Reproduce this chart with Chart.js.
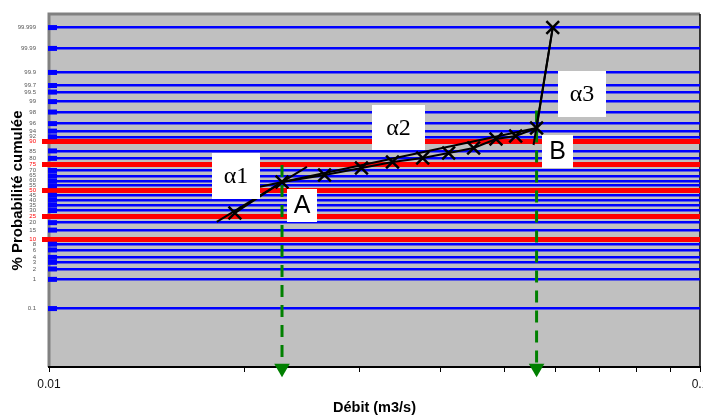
<!DOCTYPE html>
<html>
<head>
<meta charset="utf-8">
<script src="https://cdn.jsdelivr.net/npm/chart.js@4/dist/chart.umd.min.js"></script>
<style>
html, body { margin: 0; padding: 0; background: #fff; overflow: hidden; }
#wrap { width: 703px; height: 417px; }
</style>
</head>
<body>
<div id="wrap"><canvas id="chart"></canvas></div>
<script>
// measured points (débit in m3/s, cumulated probability in %)
const debit = [0.0193, 0.0228, 0.0265, 0.0302, 0.0337, 0.0375, 0.0411, 0.0449, 0.0486, 0.0521, 0.0561, 0.0594];
const probaCumulee = [27.8, 58.8, 65.8, 72.2, 77.2, 80.3, 83.7, 86.7, 91.1, 92.3, 94.9, 99.999];

// fitted segments
const alpha1Debit = [0.0181, 0.0249];
const alpha1Proba = [20.5, 73.1];
const alpha2Debit = [0.0210, 0.0561];
const alpha2Proba = [53.6, 94.9];
const alpha3Debit = [0.0555, 0.0594];
const alpha3Proba = [88.3, 99.999];

// points A and B (green arrows)
const debitA = 0.0228, probaA = 74.8;
const debitB = 0.0561, probaB = 98.2;

// axes
const probTicks = [0.1, 1, 2, 3, 4, 6, 8, 10, 15, 20, 25, 30, 35, 40, 45, 50, 55, 60, 65, 70, 75, 80, 85, 90, 92, 94, 96, 98, 99, 99.5, 99.7, 99.9, 99.99, 99.999];
const probRed = [10, 25, 50, 75, 90];
const debitTicks = [0.01, 0.02, 0.03, 0.04, 0.05, 0.06, 0.07, 0.08, 0.09, 0.1];
const debitLabels = ['0.01', '', '', '', '', '', '', '', '', '0.1'];

const BLUE = '#0000FF', RED = '#FF0000', GREEN = '#008000';
const Z_MAX = 4.62;       // normal probability paper limits
const Z_ARROW = -4.65;    // arrow heads sit just under the axis

// inverse of the normal cumulative distribution (Acklam)
function probit(pct) {
    const p = pct / 100;
    const a = [-3.969683028665376e+01, 2.209460984245205e+02, -2.759285104469687e+02, 1.383577518672690e+02, -3.066479806614716e+01, 2.506628277459239e+00];
    const b = [-5.447609879822406e+01, 1.615858368580409e+02, -1.556989798598866e+02, 6.680131188771972e+01, -1.328068155288572e+01];
    const c = [-7.784894002430293e-03, -3.223964580411365e-01, -2.400758277161838e+00, -2.549732539343734e+00, 4.374664141464968e+00, 2.938163982698783e+00];
    const d = [7.784695709041462e-03, 3.224671290700398e-01, 2.445134137142996e+00, 3.754408661907416e+00];
    const pl = 0.02425;
    if (p < pl) {
        const q = Math.sqrt(-2 * Math.log(p));
        return (((((c[0] * q + c[1]) * q + c[2]) * q + c[3]) * q + c[4]) * q + c[5]) / ((((d[0] * q + d[1]) * q + d[2]) * q + d[3]) * q + 1);
    }
    if (p > 1 - pl) {
        const q = Math.sqrt(-2 * Math.log(1 - p));
        return -(((((c[0] * q + c[1]) * q + c[2]) * q + c[3]) * q + c[4]) * q + c[5]) / ((((d[0] * q + d[1]) * q + d[2]) * q + d[3]) * q + 1);
    }
    const q = p - 0.5, r = q * q;
    return (((((a[0] * r + a[1]) * r + a[2]) * r + a[3]) * r + a[4]) * r + a[5]) * q / (((((b[0] * r + b[1]) * r + b[2]) * r + b[3]) * r + b[4]) * r + 1);
}

const toPts = (xs, ps) => xs.map((x, i) => ({x: x, y: probit(ps[i])}));
const isRed = i => probRed.includes(probTicks[i]);

// text boxes (pixel layout)
const labels = [
    {text: 'α1', x: 212, y: 153, w: 48, h: 46, font: '24px "Liberation Serif", "Times New Roman", serif'},
    {text: 'α2', x: 372, y: 105, w: 53, h: 45, font: '24px "Liberation Serif", "Times New Roman", serif'},
    {text: 'α3', x: 558, y: 71, w: 48, h: 46, font: '24px "Liberation Serif", "Times New Roman", serif'},
    {text: 'A', x: 287, y: 189, w: 30, h: 33, font: '25px "Liberation Sans", Arial, sans-serif'},
    {text: 'B', x: 542, y: 135, w: 31, h: 33, font: '25px "Liberation Sans", Arial, sans-serif'}
];

const paperPlugin = {
    id: 'paper',
    beforeDraw(chart) {
        const {ctx, chartArea: a} = chart;
        ctx.save();
        ctx.fillStyle = '#C0C0C0';
        ctx.fillRect(a.left, a.top, a.right - a.left, a.bottom - a.top);
        ctx.strokeStyle = '#808080';
        ctx.lineWidth = 3;
        ctx.beginPath();
        ctx.moveTo(a.left, a.bottom);
        ctx.lineTo(a.left, a.top);
        ctx.lineTo(a.right, a.top);
        ctx.stroke();
        ctx.strokeStyle = '#000';
        ctx.lineWidth = 1.5;
        ctx.beginPath();
        ctx.moveTo(a.right, a.top);
        ctx.lineTo(a.right, a.bottom);
        ctx.stroke();
        ctx.lineWidth = 2;
        ctx.beginPath();
        ctx.moveTo(a.left - 1, a.bottom);
        ctx.lineTo(a.right + 1, a.bottom);
        ctx.stroke();
        ctx.restore();
    },
    beforeDatasetsDraw(chart) {
        const {ctx, chartArea: a, scales} = chart;
        ctx.save();
        ctx.fillStyle = BLUE;
        probTicks.forEach((p, i) => {
            if (isRed(i)) return;
            const y = scales.y.getPixelForValue(probit(p));
            ctx.fillRect(a.left - 1, y - 2.5, 9, 5);
        });
        ctx.restore();
    },
    afterDatasetsDraw(chart) {
        const {ctx, chartArea: a, scales} = chart;
        ctx.save();
        labels.forEach(l => {
            ctx.fillStyle = '#fff';
            ctx.fillRect(l.x, l.y, l.w, l.h);
            ctx.fillStyle = '#000';
            ctx.font = l.font;
            ctx.textAlign = 'center';
            ctx.textBaseline = 'middle';
            ctx.fillText(l.text, l.x + l.w / 2, l.y + l.h / 2 + 1);
        });
        ctx.font = '12px "Liberation Sans", Arial, sans-serif';
        ctx.fillStyle = '#111';
        ctx.textAlign = 'center';
        ctx.textBaseline = 'middle';
        debitTicks.forEach((v, i) => {
            if (debitLabels[i]) ctx.fillText(debitLabels[i], scales.x.getPixelForValue(v), a.bottom + 18);
        });
        ctx.restore();
    }
};

const arrowSet = (q, p) => ({
    data: [{x: q, y: probit(p)}, {x: q, y: Z_ARROW}],
    showLine: true,
    borderColor: GREEN,
    borderWidth: 3,
    borderDash: [12, 8],
    pointRadius: [0, 9],
    pointStyle: 'triangle',
    rotation: 180,
    pointBackgroundColor: GREEN,
    pointBorderColor: GREEN,
    pointBorderWidth: 0,
    clip: false
});

const fitSet = (xs, ps) => ({
    data: toPts(xs, ps),
    showLine: true,
    borderColor: '#000',
    borderWidth: 2,
    pointRadius: 0
});

new Chart(document.getElementById('chart'), {
    type: 'scatter',
    data: {
        datasets: [
            {
                data: toPts(debit, probaCumulee),
                showLine: true,
                borderColor: '#000',
                borderWidth: 2,
                pointStyle: 'crossRot',
                pointRadius: 9,
                pointBorderColor: '#000',
                pointBorderWidth: 2.5
            },
            fitSet(alpha1Debit, alpha1Proba),
            fitSet(alpha2Debit, alpha2Proba),
            fitSet(alpha3Debit, alpha3Proba),
            arrowSet(debitA, probaA),
            arrowSet(debitB, probaB)
        ]
    },
    options: {
        responsive: true,
        maintainAspectRatio: false,
        animation: false,
        layout: {autoPadding: false, padding: {top: 14, right: 3, left: 0, bottom: 0}},
        plugins: {legend: {display: false}, tooltip: {enabled: false}},
        scales: {
            x: {
                type: 'logarithmic',
                min: 0.01,
                max: 0.1,
                afterBuildTicks: s => { s.ticks = debitTicks.map(v => ({value: v})); },
                afterFit: s => { s.height = 50; },
                grid: {drawOnChartArea: false, drawTicks: true, tickLength: 5, color: '#000', lineWidth: 1},
                border: {display: false},
                ticks: {display: false},
                title: {
                    display: true,
                    text: 'Débit (m3/s)',
                    color: '#000',
                    font: {family: 'Liberation Sans, Arial, sans-serif', size: 14.5, weight: 'bold'},
                    padding: {top: 0, bottom: 0}
                }
            },
            y: {
                min: -Z_MAX,
                max: Z_MAX,
                afterBuildTicks: s => { s.ticks = probTicks.map(p => ({value: probit(p)})); },
                afterFit: s => { s.width = 49; },
                grid: {
                    color: c => isRed(c.index) ? RED : BLUE,
                    lineWidth: c => isRed(c.index) ? 5 : 2.5,
                    tickColor: c => isRed(c.index) ? RED : 'rgba(0,0,0,0)',
                    tickWidth: c => isRed(c.index) ? 5 : 1,
                    tickLength: 7,
                    drawTicks: true
                },
                border: {display: false},
                ticks: {
                    autoSkip: false,
                    padding: 6,
                    color: c => isRed(c.index) ? RED : '#555',
                    font: {family: 'Liberation Sans, Arial, sans-serif', size: 6},
                    callback: (v, i) => String(probTicks[i])
                },
                title: {
                    display: true,
                    text: '% Probabilité cumulée',
                    color: '#000',
                    font: {family: 'Liberation Sans, Arial, sans-serif', size: 15, weight: 'bold'},
                    padding: {top: 9, bottom: 0}
                }
            }
        }
    },
    plugins: [paperPlugin]
});
</script>
</body>
</html>
